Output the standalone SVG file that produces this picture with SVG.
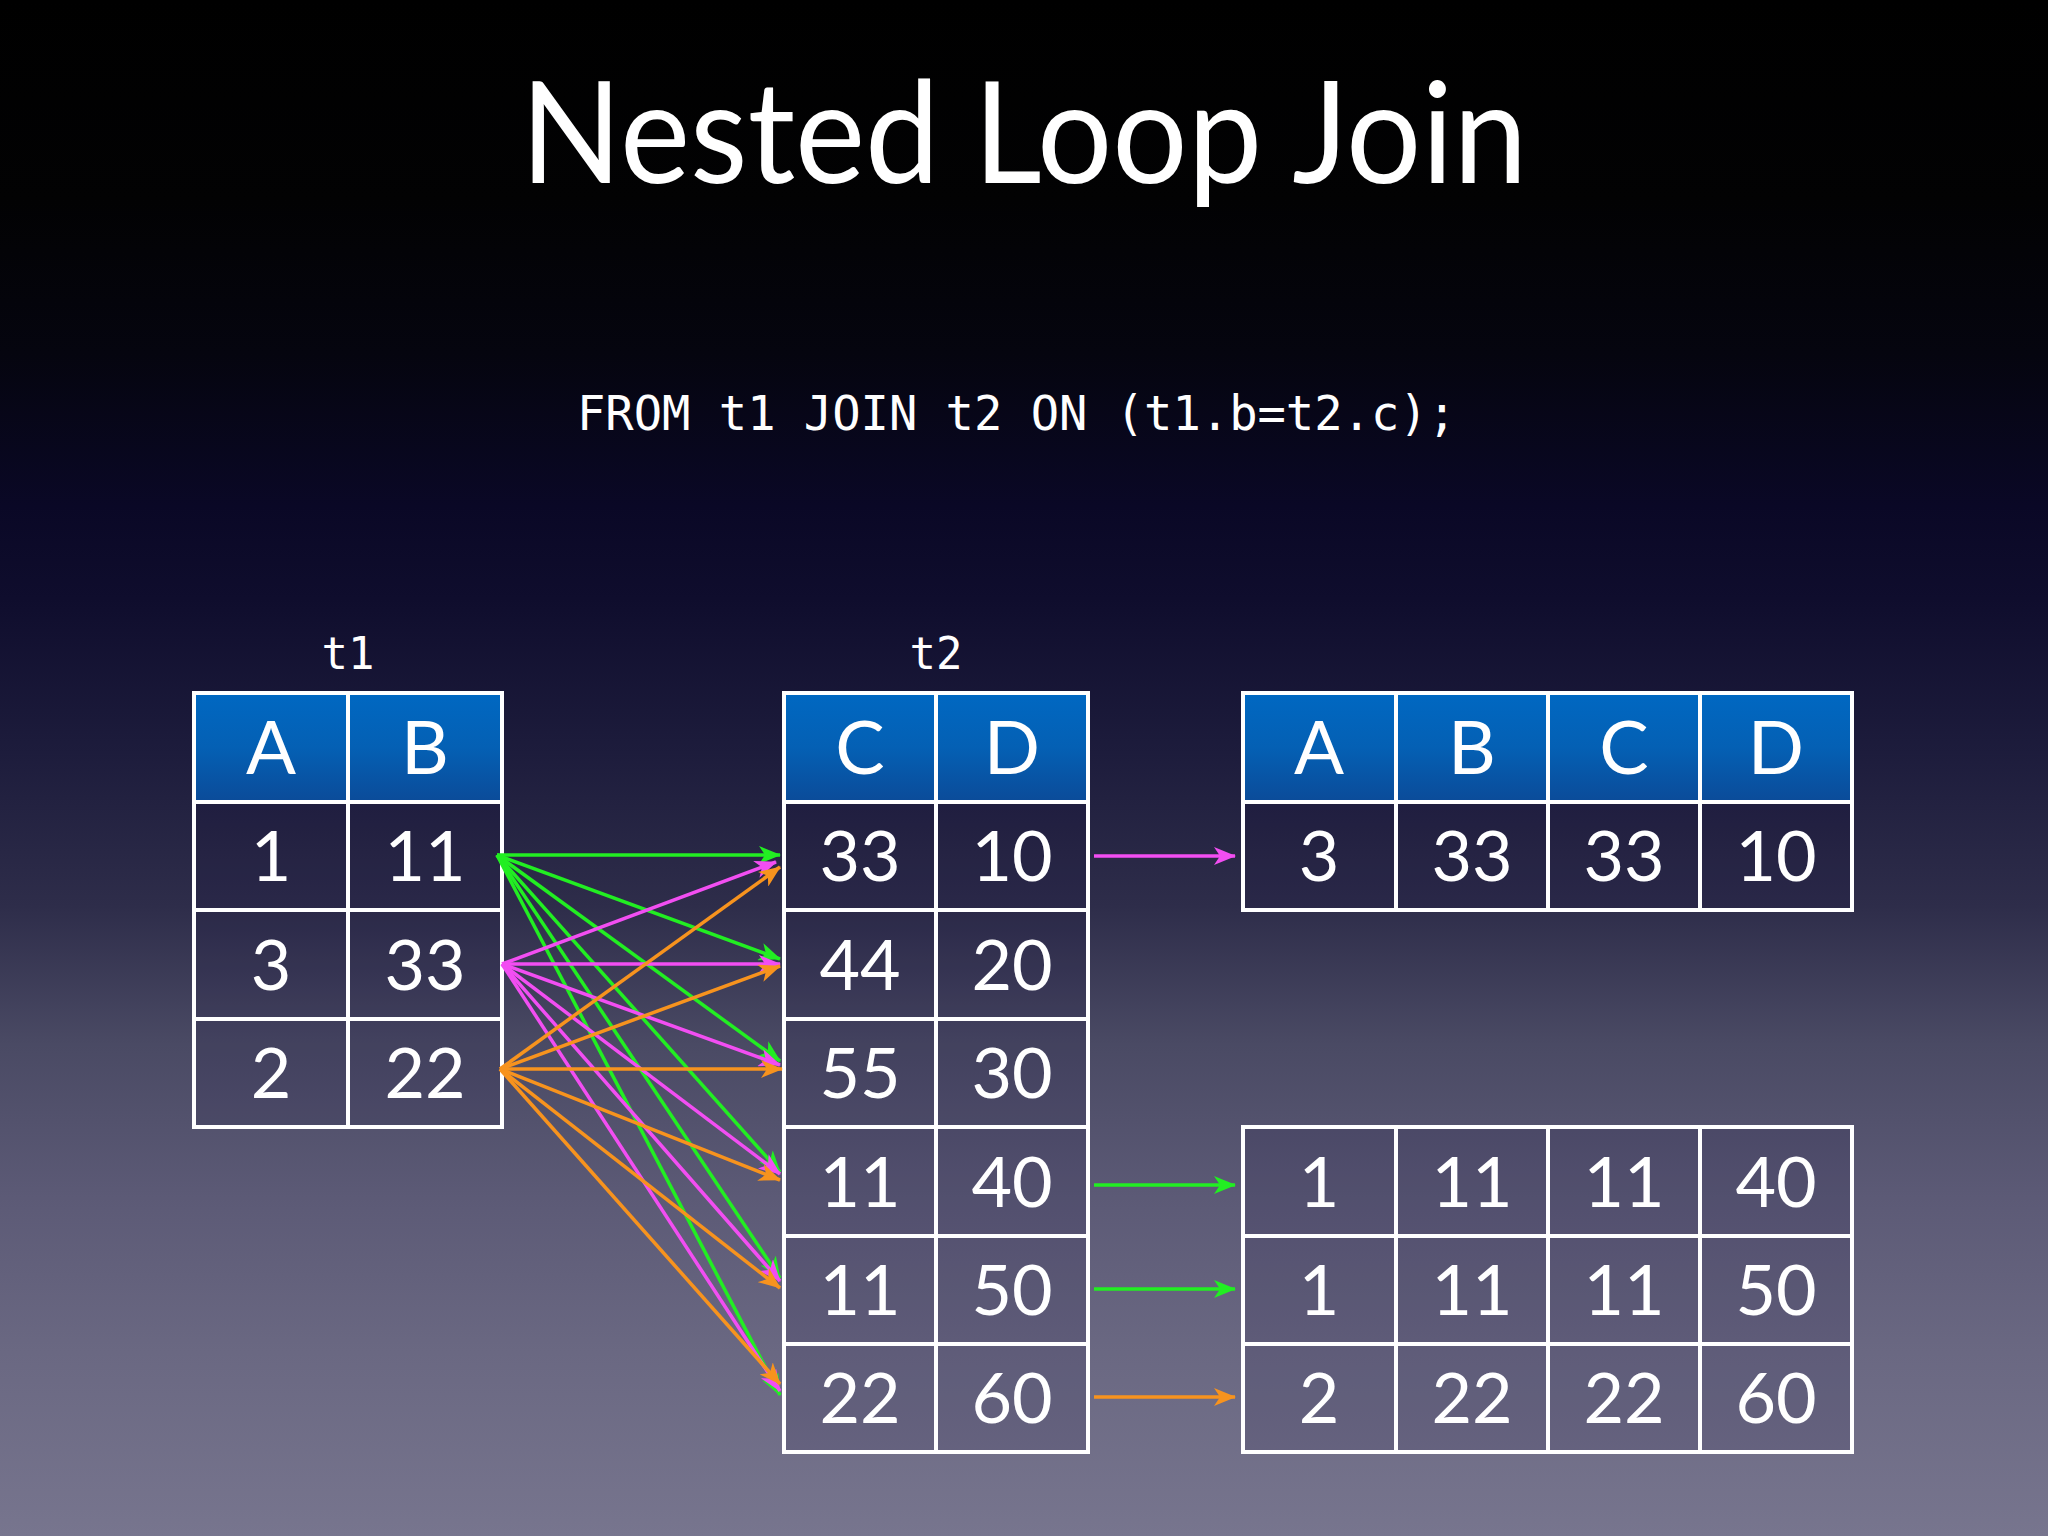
<svg xmlns="http://www.w3.org/2000/svg" width="2048" height="1536" viewBox="0 0 2048 1536">
<defs>
<linearGradient id="bg" x1="0" y1="0" x2="0" y2="1">
<stop offset="0" stop-color="#000000"/>
<stop offset="0.13" stop-color="#020203"/>
<stop offset="0.23" stop-color="#05050f"/>
<stop offset="0.33" stop-color="#0a0826"/>
<stop offset="0.39" stop-color="#0f0d2d"/>
<stop offset="0.49" stop-color="#1d1c3c"/>
<stop offset="0.59" stop-color="#2e2d4a"/>
<stop offset="0.68" stop-color="#4a4a64"/>
<stop offset="0.78" stop-color="#5c5a76"/>
<stop offset="0.88" stop-color="#6a6882"/>
<stop offset="1" stop-color="#77758e"/>
</linearGradient>
<linearGradient id="hdr" x1="0" y1="0" x2="0" y2="1">
<stop offset="0" stop-color="#0068c2"/>
<stop offset="0.5" stop-color="#0460b4"/>
<stop offset="1" stop-color="#0b4b99"/>
</linearGradient>
<marker id="mG" viewBox="0 0 22 18" refX="21" refY="9" markerWidth="22" markerHeight="18" markerUnits="userSpaceOnUse" orient="auto"><path d="M0,0 L22,9 L0,18 L6,9 Z" fill="#22ee22"/></marker>
<marker id="mP" viewBox="0 0 22 18" refX="21" refY="9" markerWidth="22" markerHeight="18" markerUnits="userSpaceOnUse" orient="auto"><path d="M0,0 L22,9 L0,18 L6,9 Z" fill="#f24ef2"/></marker>
<marker id="mO" viewBox="0 0 22 18" refX="21" refY="9" markerWidth="22" markerHeight="18" markerUnits="userSpaceOnUse" orient="auto"><path d="M0,0 L22,9 L0,18 L6,9 Z" fill="#f7931e"/></marker>
</defs>
<style>
.title{font-family:Lato,"Open Sans","Liberation Sans",sans-serif;font-size:142px;fill:#ffffff;text-anchor:middle}
.mono{font-family:"DejaVu Sans Mono","Liberation Mono",monospace;fill:#ffffff}
.lbl{font-size:44px;text-anchor:middle}
.h{fill:url(#hdr)}
.c{fill:#140c3a;fill-opacity:0.12}
.grid{fill:none;stroke:#ffffff;stroke-width:4}
.ht{font-family:Lato,"Open Sans","Liberation Sans",sans-serif;font-size:74px;fill:#ffffff;text-anchor:middle}
.ct{font-family:Lato,"Open Sans","Liberation Sans",sans-serif;font-size:70px;fill:#ffffff;text-anchor:middle}
.g{stroke:#22ee22;stroke-width:3.5;fill:none;marker-end:url(#mG)}
.p{stroke:#f24ef2;stroke-width:3.5;fill:none;marker-end:url(#mP)}
.o{stroke:#f7931e;stroke-width:3.5;fill:none;marker-end:url(#mO)}
</style>
<rect x="0" y="0" width="2048" height="1536" fill="url(#bg)"/>
<text id="title" class="title" x="1024" y="183" textLength="1007" lengthAdjust="spacingAndGlyphs">Nested Loop Join</text>
<text id="sql" class="mono" x="577" y="430" font-size="48" textLength="879" lengthAdjust="spacingAndGlyphs">FROM t1 JOIN t2 ON (t1.b=t2.c);</text>

<g id="t1">
<text class="mono lbl" x="348" y="669">t1</text>
<rect class="h" x="194" y="693" width="308" height="109"/>
<rect class="c" x="194" y="802" width="308" height="325"/>
<path class="grid" d="M194,693 H502 V1127 H194 Z M348,693 V1127 M194,802 H502 M194,910 H502 M194,1019 H502"/>
<text class="ht" x="271" y="774">A</text><text class="ht" x="425" y="774">B</text>
<text class="ct" x="271" y="881">1</text><text class="ct" x="425" y="881">11</text>
<text class="ct" x="271" y="990">3</text><text class="ct" x="425" y="990">33</text>
<text class="ct" x="271" y="1098">2</text><text class="ct" x="425" y="1098">22</text>
</g>

<g id="t2">
<text class="mono lbl" x="936" y="669">t2</text>
<rect class="h" x="784" y="693" width="304" height="109"/>
<rect class="c" x="784" y="802" width="304" height="650"/>
<path class="grid" d="M784,693 H1088 V1452 H784 Z M936,693 V1452 M784,802 H1088 M784,910 H1088 M784,1019 H1088 M784,1127 H1088 M784,1236 H1088 M784,1344 H1088"/>
<text class="ht" x="860" y="774">C</text><text class="ht" x="1012" y="774">D</text>
<text class="ct" x="860" y="881">33</text><text class="ct" x="1012" y="881">10</text>
<text class="ct" x="860" y="990">44</text><text class="ct" x="1012" y="990">20</text>
<text class="ct" x="860" y="1098">55</text><text class="ct" x="1012" y="1098">30</text>
<text class="ct" x="860" y="1207">11</text><text class="ct" x="1012" y="1207">40</text>
<text class="ct" x="860" y="1315">11</text><text class="ct" x="1012" y="1315">50</text>
<text class="ct" x="860" y="1423">22</text><text class="ct" x="1012" y="1423">60</text>
</g>

<g id="result1">
<rect class="h" x="1243" y="693" width="609" height="109"/>
<rect class="c" x="1243" y="802" width="609" height="108"/>
<path class="grid" d="M1243,693 H1852 V910 H1243 Z M1396,693 V910 M1548,693 V910 M1700,693 V910 M1243,802 H1852"/>
<text class="ht" x="1319" y="774">A</text><text class="ht" x="1472" y="774">B</text><text class="ht" x="1624" y="774">C</text><text class="ht" x="1776" y="774">D</text>
<text class="ct" x="1319" y="881">3</text><text class="ct" x="1472" y="881">33</text><text class="ct" x="1624" y="881">33</text><text class="ct" x="1776" y="881">10</text>
</g>

<g id="result2">
<rect class="c" x="1243" y="1127" width="609" height="325"/>
<path class="grid" d="M1243,1127 H1852 V1452 H1243 Z M1396,1127 V1452 M1548,1127 V1452 M1700,1127 V1452 M1243,1236 H1852 M1243,1344 H1852"/>
<text class="ct" x="1319" y="1207">1</text><text class="ct" x="1472" y="1207">11</text><text class="ct" x="1624" y="1207">11</text><text class="ct" x="1776" y="1207">40</text>
<text class="ct" x="1319" y="1315">1</text><text class="ct" x="1472" y="1315">11</text><text class="ct" x="1624" y="1315">11</text><text class="ct" x="1776" y="1315">50</text>
<text class="ct" x="1319" y="1423">2</text><text class="ct" x="1472" y="1423">22</text><text class="ct" x="1624" y="1423">22</text><text class="ct" x="1776" y="1423">60</text>
</g>

<g id="connectors">
<line class="g" x1="497" y1="855" x2="780" y2="855"/>
<line class="g" x1="497" y1="855" x2="780" y2="959"/>
<line class="g" x1="497" y1="855" x2="780" y2="1061"/>
<line class="g" x1="497" y1="855" x2="780" y2="1172"/>
<line class="g" x1="497" y1="855" x2="780" y2="1278"/>
<line class="g" x1="497" y1="855" x2="780" y2="1395"/>
<line class="p" x1="502" y1="964" x2="776" y2="862"/>
<line class="p" x1="502" y1="964" x2="780" y2="964"/>
<line class="p" x1="502" y1="964" x2="780" y2="1065"/>
<line class="p" x1="502" y1="964" x2="780" y2="1174"/>
<line class="p" x1="502" y1="964" x2="780" y2="1281"/>
<line class="p" x1="502" y1="964" x2="780" y2="1391"/>
<line class="o" x1="500" y1="1069" x2="780" y2="867"/>
<line class="o" x1="500" y1="1069" x2="780" y2="966"/>
<line class="o" x1="500" y1="1069" x2="782" y2="1069"/>
<line class="o" x1="500" y1="1069" x2="780" y2="1180"/>
<line class="o" x1="500" y1="1069" x2="780" y2="1288"/>
<line class="o" x1="500" y1="1069" x2="780" y2="1384"/>
<line class="p" x1="1094" y1="856" x2="1235" y2="856"/>
<line class="g" x1="1094" y1="1185" x2="1235" y2="1185"/>
<line class="g" x1="1094" y1="1289" x2="1235" y2="1289"/>
<line class="o" x1="1094" y1="1397" x2="1235" y2="1397"/>
</g>
</svg>
